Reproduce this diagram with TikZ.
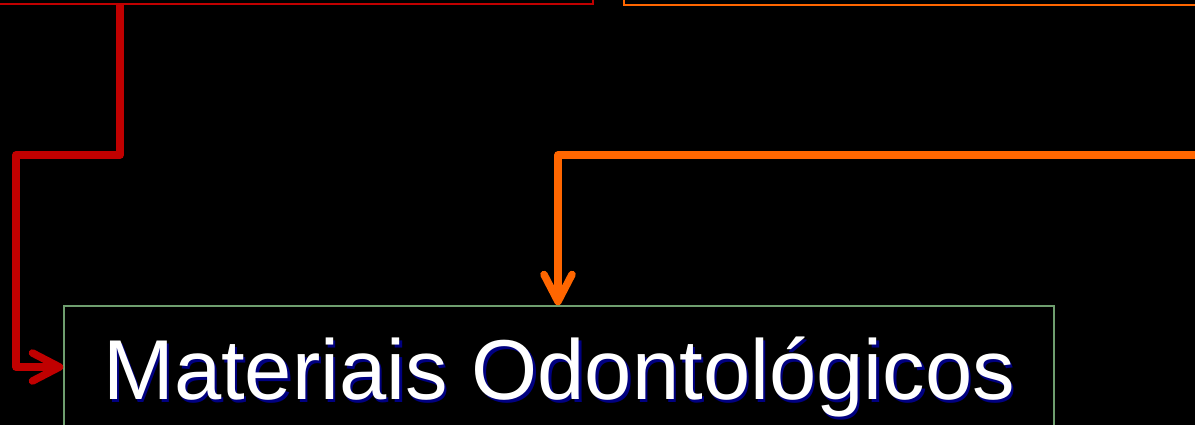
\documentclass[tikz,border=0pt]{standalone}
\usepackage{fontspec}
\setmainfont{Liberation Sans}
\usetikzlibrary{arrows.meta}
\definecolor{myred}{HTML}{C00000}
\definecolor{myorange}{HTML}{FF6600}
\definecolor{mygreen}{HTML}{6E9E6E}
\definecolor{shadowblue}{HTML}{000080}
\tikzset{
  topbox/.style={draw=#1, line width=2.5pt, fill=black, rectangle, inner sep=0pt},
  conn/.style={draw=#1, line width=7.5pt, line join=round, -{Straight Barb[length=27pt, width=28pt, line width=7.5pt, round]}},
  matbox/.style={draw=mygreen, line width=1.5pt, fill=black, rectangle, inner sep=0pt},
  bigtext/.style={font=\fontsize{85}{100}\selectfont, inner sep=0pt, anchor=base west, text=white}
}
\newcommand{\shadowtext}[1]{\makebox[0pt][l]{\hspace{2.5pt}\raisebox{-3pt}{\textcolor{shadowblue}{#1}}}#1}
\begin{document}
\begin{tikzpicture}[x=1pt, y=-1pt]
  \fill[black] (0,0) rectangle (1195,425);
  \useasboundingbox (0,0) rectangle (1195,425);
  \clip (0,0) rectangle (1195,425);
  % top boxes (partly outside the view)
  \node[topbox=myred, minimum width=640pt, minimum height=104pt] (redbox) at (273,-48) {};
  \node[topbox=myorange, minimum width=600pt, minimum height=105pt] (orangebox) at (924,-47.5) {};
  % bottom box
  \node[matbox, minimum width=990pt, minimum height=122pt] (mat) at (559,367) {};
  \node[bigtext] (mattext) at (103,399) {\shadowtext{Materiais Odontológicos}};
  % connectors
  \coordinate (r1) at (120,155);
  \coordinate (r2) at (16,155);
  \draw[conn=myred] (redbox.south -| r1) -- (r1) -- (r2) |- (mat.west);
  \coordinate (o1) at (1205,155);
  \coordinate (o2) at (558,155);
  \draw[conn=myorange] (o1) -- (o2) -- (mat.north -| o2);
\end{tikzpicture}
\end{document}
